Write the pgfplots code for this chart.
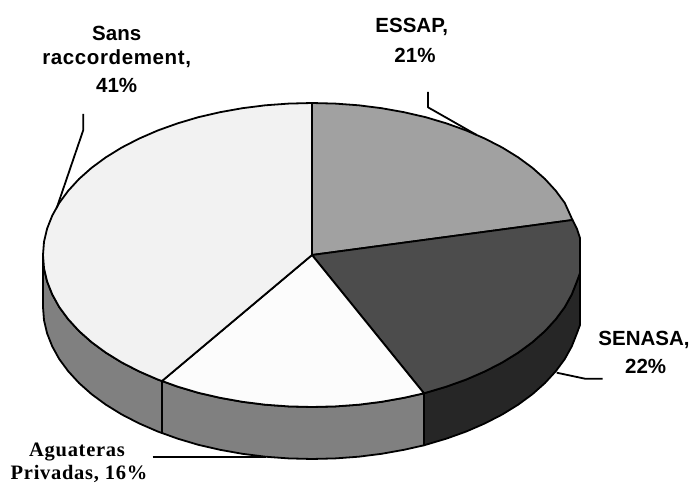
\documentclass[border=0pt]{standalone}
\usepackage{pgfplots}
\usepackage{fontspec}
\pgfplotsset{compat=1.18}
\setmainfont{Liberation Sans}
\newfontfamily\tnr[LetterSpace=3.5]{Liberation Serif}
\newfontfamily\arsp[LetterSpace=3]{Liberation Sans}
\newcommand{\lab}{\fontsize{20.5}{24}\selectfont\bfseries}
\newcommand{\labr}{\fontsize{20.5}{24}\selectfont\arsp\bfseries}
\newcommand{\labs}{\fontsize{20.5}{24}\selectfont\tnr\bfseries}
\begin{document}
\begin{tikzpicture}
\begin{axis}[at={(0,0)},anchor=south west,width=691pt,height=484pt,scale only axis,
  xmin=0,xmax=691,ymin=0,ymax=484,y dir=reverse,axis line style={draw=none},ticks=none,clip=false,
  every axis plot/.append style={no markers,line join=round,black,line width=1.8pt}]
% sides
\addplot[fill=black!85,draw=black] coordinates {(580,273)(576.9,281.4)(571.8,294.3)(564.8,307)(555.8,319.2)(545,331)(532.4,342.2)(518.1,352.7)(502.2,362.5)(484.9,371.4)(466.3,379.5)(446.5,386.6)(424,393.3)(424,445.3)(446.5,438.6)(466.3,431.5)(484.9,423.4)(502.2,414.5)(518.1,404.7)(532.4,394.2)(545,383)(555.8,371.2)(564.8,359)(571.8,346.3)(576.9,333.4)(580,325)} -- cycle;
\addplot[fill=black!50,draw=black] coordinates {(424,393.3)(404,397.8)(381.6,401.8)(358.7,404.7)(335.4,406.4)(312,407)(288.6,406.4)(265.3,404.7)(242.4,401.8)(220,397.8)(198.3,392.8)(177.5,386.6)(162,381)(162,433)(177.5,438.6)(198.3,444.8)(220,449.8)(242.4,453.8)(265.3,456.7)(288.6,458.4)(312,459)(335.4,458.4)(358.7,456.7)(381.6,453.8)(404,449.8)(424,445.3)} -- cycle;
\addplot[fill=black!50,draw=black] coordinates {(162,381)(157.7,379.5)(139.1,371.4)(121.8,362.5)(105.9,352.7)(91.6,342.2)(79,331)(68.2,319.2)(59.2,307)(52.2,294.3)(47.1,281.4)(44,268.2)(43,255)(43,307)(44,320.2)(47.1,333.4)(52.2,346.3)(59.2,359)(68.2,371.2)(79,383)(91.6,394.2)(105.9,404.7)(121.8,414.5)(139.1,423.4)(157.7,431.5)(162,433)} -- cycle;
% tops
\addplot[fill=black!37,draw=black] coordinates {(312,255)(312,103)(335.4,103.6)(358.7,105.3)(381.6,108.2)(404,112.2)(425.7,117.2)(446.5,123.4)(466.3,130.5)(484.9,138.6)(502.2,147.5)(518.1,157.3)(532.4,167.8)(545,179)(555.8,190.8)(564.8,203)(572.5,220)} -- cycle;
\addplot[fill=black!70,draw=black] coordinates {(312,255)(572.5,220)(576.9,228.6)(580,238)(580,273)(576.9,281.4)(571.8,294.3)(564.8,307)(555.8,319.2)(545,331)(532.4,342.2)(518.1,352.7)(502.2,362.5)(484.9,371.4)(466.3,379.5)(446.5,386.6)(424,393.3)} -- cycle;
\addplot[fill=black!1,draw=black] coordinates {(312,255)(424,393.3)(404,397.8)(381.6,401.8)(358.7,404.7)(335.4,406.4)(312,407)(288.6,406.4)(265.3,404.7)(242.4,401.8)(220,397.8)(198.3,392.8)(177.5,386.6)(162,381)} -- cycle;
\addplot[fill=black!5,draw=black] coordinates {(312,255)(162,381)(157.7,379.5)(139.1,371.4)(121.8,362.5)(105.9,352.7)(91.6,342.2)(79,331)(68.2,319.2)(59.2,307)(52.2,294.3)(47.1,281.4)(44,268.2)(43,255)(44,241.8)(47.1,228.6)(52.2,215.7)(59.2,203)(68.2,190.8)(79,179)(91.6,167.8)(105.9,157.3)(121.8,147.5)(139.1,138.6)(157.7,130.5)(177.5,123.4)(198.3,117.2)(220,112.2)(242.4,108.2)(265.3,105.3)(288.6,103.6)(312,103)} -- cycle;
% leaders
\addplot[draw=black] coordinates {(428,92)(428,107.3)(476.7,135)};
\addplot[draw=black] coordinates {(83.3,114)(83.3,130)(56.7,208)};
\addplot[draw=black] coordinates {(602.7,378.7)(585,378.7)(556.7,372.7)};
\addplot[draw=black] coordinates {(152.7,456.7)(266,456.7)};
% labels
\node[anchor=base,inner sep=0pt] at (axis cs:116.7,40.7) {\lab Sans};
\node[anchor=base,inner sep=0pt] at (axis cs:116.7,65) {\labr raccordement,};
\node[anchor=base,inner sep=0pt] at (axis cs:116.7,93) {\lab 41\%};
\node[anchor=base,inner sep=0pt] at (axis cs:411.7,32.3) {\lab ESSAP,};
\node[anchor=base,inner sep=0pt] at (axis cs:415,62.7) {\lab 21\%};
\node[anchor=base,inner sep=0pt] at (axis cs:644,345) {\lab SENASA,};
\node[anchor=base,inner sep=0pt] at (axis cs:645.7,373) {\lab 22\%};
\node[anchor=base,inner sep=0pt] at (axis cs:77,456) {\labs Aguateras};
\node[anchor=base,inner sep=0pt] at (axis cs:79,479.5) {\labs Privadas, 16\%};
\end{axis}
\pgfresetboundingbox
\path[use as bounding box] (0,0) rectangle (691pt,484pt);
\end{tikzpicture}
\end{document}
